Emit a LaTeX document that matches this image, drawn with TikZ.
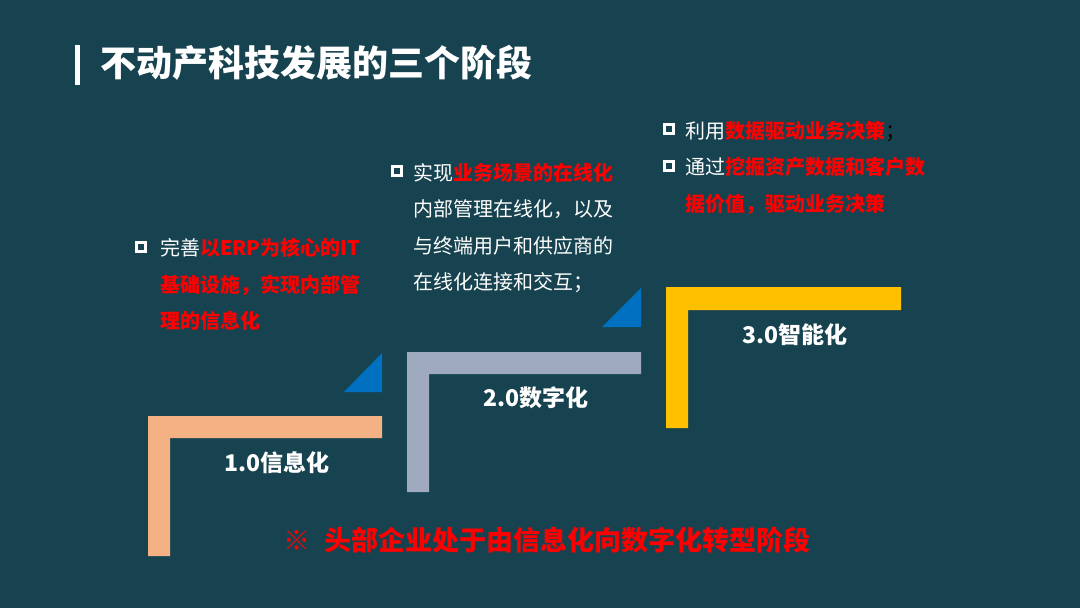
\documentclass[tikz,border=0pt]{standalone}
\usepackage{fontspec}
\setmainfont{Noto Sans CJK SC}
\usetikzlibrary{positioning}

\definecolor{bgteal}{HTML}{174350}
\definecolor{peach}{HTML}{F4B183}
\definecolor{slate}{HTML}{A0AABE}
\definecolor{gold}{HTML}{FFC000}
\definecolor{tri}{HTML}{0070C0}
\definecolor{hired}{HTML}{FF0000}

\newcommand{\hl}[1]{\textcolor{hired}{\bfseries #1}}

\begin{document}
\begin{tikzpicture}[x=1pt, y=-1pt,
  bul/.style={draw=white, line width=3pt, minimum size=9pt, inner sep=0pt},
  txt/.style={anchor=north west, align=left, text=white, inner sep=0pt,
              font=\fontsize{20}{36.5}\selectfont},
  lbl/.style={text=white, inner sep=0pt, font=\fontsize{23}{28}\selectfont\bfseries}
]
  \fill[bgteal] (0,0) rectangle (1080,608);
  \useasboundingbox (0,0) rectangle (1080,608);

  % title
  \fill[white] (75,45) rectangle (80,85);
  \node[anchor=west, text=white, inner sep=0pt, font=\fontsize{36}{40}\selectfont\bfseries]
      (title) at (100,63) {不动产科技发展的三个阶段};

  % steps
  \fill[peach] (148,556) -- (148,416) -- (382,416) -- (382,438) -- (170,438) -- (170,556) -- cycle;
  \fill[slate] (407,492) -- (407,352) -- (641,352) -- (641,374) -- (429,374) -- (429,492) -- cycle;
  \fill[gold]  (666,428) -- (666,287) -- (901,287) -- (901,310) -- (688,310) -- (688,428) -- cycle;

  \fill[tri] (344,392) -- (382,353) -- (382,392) -- cycle;
  \fill[tri] (602,327) -- (641,288) -- (641,327) -- cycle;

  \node[lbl] (s1) at (277,463) {1.0信息化};
  \node[lbl] (s2) at (536,398) {2.0数字化};
  \node[lbl] (s3) at (795,335) {3.0智能化};

  % bullet texts
  \node[bul] (q1) at (141,247) {};
  \node[txt] (b1) at (160,238) {完善\hl{以ERP为核心的IT}\\\hl{基础设施，实现内部管}\\\hl{理的信息化}};

  \node[bul] (q2) at (396.5,171) {};
  \node[txt] (b2) at (413,163) {实现\hl{业务场景的在线化}\\内部管理在线化，以及\\与终端用户和供应商的\\在线化连接和交互；};

  \node[bul] (q3a) at (668.5,129) {};
  \node[bul] (q3b) at (668.5,166) {};
  \node[txt] (b3) at (685,121) {利用\hl{数据驱动业务决策}\textcolor{black}{；}\\通过\hl{挖掘资产数据和客户数}\\\hl{据价值，驱动业务决策}};

  % note
  \node[anchor=west, text=hired, inner sep=0pt, font=\fontsize{27}{30}\selectfont\bfseries]
      (note) at (283,540) {※\hspace{14pt}头部企业处于由信息化向数字化转型阶段};
\end{tikzpicture}
\end{document}
